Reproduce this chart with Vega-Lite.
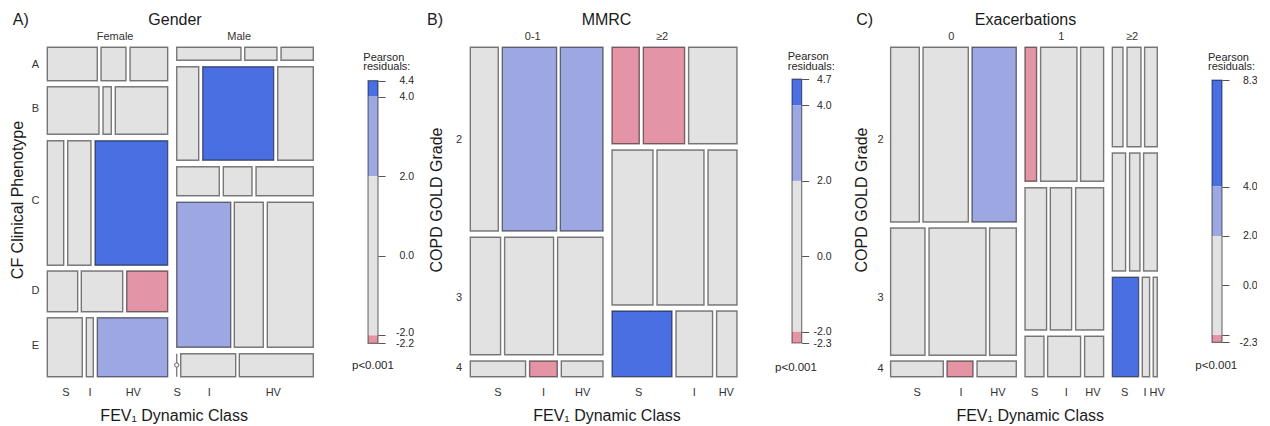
{
"$schema":"https://vega.github.io/schema/vega-lite/v6.json",
"background":"white",
"padding":0,
"spacing":0,
"bounds":"flush",
"config":{"view":{"stroke":null},"font":"Liberation Sans"},
"datasets":{
"tilesA":[
{"g":"Female","p":"A","f":"S","x":0,"x2":18.8,"y":0,"y2":10.14,"s":"n"},
{"g":"Female","p":"A","f":"I","x":20.19,"x2":29.59,"y":0,"y2":10.14,"s":"n"},
{"g":"Female","p":"A","f":"HV","x":31.09,"x2":45.26,"y":0,"y2":10.14,"s":"n"},
{"g":"Female","p":"B","f":"S","x":0,"x2":19.44,"y":11.96,"y2":26.41,"s":"n"},
{"g":"Female","p":"B","f":"I","x":20.94,"x2":24.06,"y":11.96,"y2":26.41,"s":"n"},
{"g":"Female","p":"B","f":"HV","x":25.56,"x2":45.26,"y":11.96,"y2":26.41,"s":"n"},
{"g":"Female","p":"C","f":"S","x":0,"x2":6.17,"y":28.35,"y2":66.18,"s":"n"},
{"g":"Female","p":"C","f":"I","x":7.67,"x2":16.43,"y":28.35,"y2":66.18,"s":"n"},
{"g":"Female","p":"C","f":"HV","x":17.93,"x2":45.26,"y":28.35,"y2":66.18,"s":"p4"},
{"g":"Female","p":"D","f":"S","x":0,"x2":11.43,"y":67.91,"y2":80.27,"s":"n"},
{"g":"Female","p":"D","f":"I","x":12.78,"x2":28.35,"y":67.91,"y2":80.27,"s":"n"},
{"g":"Female","p":"D","f":"HV","x":29.85,"x2":45.26,"y":67.91,"y2":80.27,"s":"m2"},
{"g":"Female","p":"E","f":"S","x":0,"x2":13.16,"y":82.09,"y2":100,"s":"n"},
{"g":"Female","p":"E","f":"I","x":14.66,"x2":17.29,"y":82.09,"y2":100,"s":"n"},
{"g":"Female","p":"E","f":"HV","x":18.8,"x2":45.26,"y":82.09,"y2":100,"s":"p2"},
{"g":"Male","p":"A","f":"S","x":48.65,"x2":72.82,"y":0,"y2":3.95,"s":"n"},
{"g":"Male","p":"A","f":"I","x":74.21,"x2":86.35,"y":0,"y2":3.95,"s":"n"},
{"g":"Male","p":"A","f":"HV","x":87.86,"x2":100,"y":0,"y2":3.95,"s":"n"},
{"g":"Male","p":"B","f":"S","x":48.65,"x2":56.92,"y":5.89,"y2":34.3,"s":"n"},
{"g":"Male","p":"B","f":"I","x":58.42,"x2":85.11,"y":5.89,"y2":34.3,"s":"p4"},
{"g":"Male","p":"B","f":"HV","x":86.62,"x2":100,"y":5.89,"y2":34.3,"s":"n"},
{"g":"Male","p":"C","f":"S","x":48.65,"x2":64.66,"y":36.25,"y2":45.05,"s":"n"},
{"g":"Male","p":"C","f":"I","x":66.17,"x2":76.96,"y":36.25,"y2":45.05,"s":"n"},
{"g":"Male","p":"C","f":"HV","x":78.46,"x2":100,"y":36.25,"y2":45.05,"s":"n"},
{"g":"Male","p":"D","f":"S","x":48.65,"x2":68.95,"y":47.06,"y2":91.07,"s":"p2"},
{"g":"Male","p":"D","f":"I","x":70.3,"x2":81.2,"y":47.06,"y2":91.07,"s":"n"},
{"g":"Male","p":"D","f":"HV","x":82.71,"x2":100,"y":47.06,"y2":91.07,"s":"n"},
{"g":"Male","p":"E","f":"I","x":50.15,"x2":70.83,"y":93.02,"y2":100,"s":"n"},
{"g":"Male","p":"E","f":"HV","x":72.18,"x2":100,"y":93.02,"y2":100,"s":"n"}
],
"zeroLineA":[{"g":"Male","p":"E","f":"S","x":48.65,"y":93.02,"y2":100}],
"zeroDotA":[{"g":"Male","p":"E","f":"S","x":48.65,"y":96.45}],
"tilesB":[
{"m":"0-1","gr":"2","f":"S","x":0,"x2":10.5,"y":0,"y2":55.77,"s":"n"},
{"m":"0-1","gr":"2","f":"I","x":12.0,"x2":32.36,"y":0,"y2":55.77,"s":"p2"},
{"m":"0-1","gr":"2","f":"HV","x":33.75,"x2":49.76,"y":0,"y2":55.77,"s":"p2"},
{"m":"0-1","gr":"3","f":"S","x":0,"x2":11.36,"y":57.68,"y2":93.32,"s":"n"},
{"m":"0-1","gr":"3","f":"I","x":12.86,"x2":31.23,"y":57.68,"y2":93.32,"s":"n"},
{"m":"0-1","gr":"3","f":"HV","x":32.73,"x2":49.76,"y":57.68,"y2":93.32,"s":"n"},
{"m":"0-1","gr":"4","f":"S","x":0,"x2":20.73,"y":95.23,"y2":100,"s":"n"},
{"m":"0-1","gr":"4","f":"I","x":22.23,"x2":32.62,"y":95.23,"y2":100,"s":"m2"},
{"m":"0-1","gr":"4","f":"HV","x":34.12,"x2":49.76,"y":95.23,"y2":100,"s":"n"},
{"m":"≥2","gr":"2","f":"S","x":53.13,"x2":63.37,"y":0,"y2":29.27,"s":"m2"},
{"m":"≥2","gr":"2","f":"I","x":64.87,"x2":80.35,"y":0,"y2":29.27,"s":"m2"},
{"m":"≥2","gr":"2","f":"HV","x":81.85,"x2":100,"y":0,"y2":29.27,"s":"n"},
{"m":"≥2","gr":"3","f":"S","x":53.13,"x2":68.5,"y":31.18,"y2":78.23,"s":"n"},
{"m":"≥2","gr":"3","f":"I","x":70.0,"x2":87.63,"y":31.18,"y2":78.23,"s":"n"},
{"m":"≥2","gr":"3","f":"HV","x":89.13,"x2":100,"y":31.18,"y2":78.23,"s":"n"},
{"m":"≥2","gr":"4","f":"S","x":53.13,"x2":75.63,"y":80.05,"y2":100,"s":"p4"},
{"m":"≥2","gr":"4","f":"I","x":77.13,"x2":90.85,"y":80.05,"y2":100,"s":"n"},
{"m":"≥2","gr":"4","f":"HV","x":92.35,"x2":100,"y":80.05,"y2":100,"s":"n"}
],
"tilesC":[
{"e":"0","gr":"2","f":"S","x":0,"x2":10.76,"y":0,"y2":53.04,"s":"n"},
{"e":"0","gr":"2","f":"I","x":12.15,"x2":29.14,"y":0,"y2":53.04,"s":"n"},
{"e":"0","gr":"2","f":"HV","x":30.52,"x2":47.13,"y":0,"y2":53.04,"s":"p2"},
{"e":"0","gr":"3","f":"S","x":0,"x2":12.9,"y":54.86,"y2":93.5,"s":"n"},
{"e":"0","gr":"3","f":"I","x":14.4,"x2":35.77,"y":54.86,"y2":93.5,"s":"n"},
{"e":"0","gr":"3","f":"HV","x":37.12,"x2":47.13,"y":54.86,"y2":93.5,"s":"n"},
{"e":"0","gr":"4","f":"S","x":0,"x2":19.76,"y":95.23,"y2":100,"s":"n"},
{"e":"0","gr":"4","f":"I","x":21.15,"x2":30.9,"y":95.23,"y2":100,"s":"m2"},
{"e":"0","gr":"4","f":"HV","x":32.4,"x2":47.13,"y":95.23,"y2":100,"s":"n"},
{"e":"1","gr":"2","f":"S","x":50.39,"x2":54.74,"y":0,"y2":40.68,"s":"m2"},
{"e":"1","gr":"2","f":"I","x":56.24,"x2":69.89,"y":0,"y2":40.68,"s":"n"},
{"e":"1","gr":"2","f":"HV","x":71.24,"x2":79.87,"y":0,"y2":40.68,"s":"n"},
{"e":"1","gr":"3","f":"S","x":50.39,"x2":58.49,"y":42.62,"y2":85.82,"s":"n"},
{"e":"1","gr":"3","f":"I","x":59.88,"x2":67.87,"y":42.62,"y2":85.82,"s":"n"},
{"e":"1","gr":"3","f":"HV","x":69.37,"x2":79.87,"y":42.62,"y2":85.82,"s":"n"},
{"e":"1","gr":"4","f":"S","x":50.39,"x2":57.52,"y":87.74,"y2":100,"s":"n"},
{"e":"1","gr":"4","f":"I","x":58.87,"x2":71.24,"y":87.74,"y2":100,"s":"n"},
{"e":"1","gr":"4","f":"HV","x":72.74,"x2":79.87,"y":87.74,"y2":100,"s":"n"},
{"e":"≥2","gr":"2","f":"S","x":83.13,"x2":87.14,"y":0,"y2":30.18,"s":"n"},
{"e":"≥2","gr":"2","f":"I","x":88.64,"x2":93.89,"y":0,"y2":30.18,"s":"n"},
{"e":"≥2","gr":"2","f":"HV","x":95.24,"x2":100,"y":0,"y2":30.18,"s":"n"},
{"e":"≥2","gr":"3","f":"S","x":83.13,"x2":88.11,"y":32.09,"y2":67.91,"s":"n"},
{"e":"≥2","gr":"3","f":"I","x":89.61,"x2":93.51,"y":32.09,"y2":67.91,"s":"n"},
{"e":"≥2","gr":"3","f":"HV","x":94.86,"x2":100,"y":32.09,"y2":67.91,"s":"n"},
{"e":"≥2","gr":"4","f":"S","x":83.13,"x2":92.99,"y":69.82,"y2":100,"s":"p4"},
{"e":"≥2","gr":"4","f":"I","x":94.37,"x2":97.11,"y":69.82,"y2":100,"s":"n"},
{"e":"≥2","gr":"4","f":"HV","x":98.46,"x2":100,"y":69.82,"y2":100,"s":"n"}
],
"txtA":[
{"role":"tag","t":"A)","x":-13.0,"y":-6.77},
{"role":"title","t":"Gender","x":48.0,"y":-6.77},
{"role":"lab","t":"Female","x":25.49,"y":-3.07},
{"role":"lab","t":"Male","x":72.14,"y":-3.07},
{"role":"lab","t":"A","x":-4.44,"y":5.37},
{"role":"lab","t":"B","x":-4.44,"y":18.73},
{"role":"lab","t":"C","x":-4.44,"y":46.57},
{"role":"lab","t":"D","x":-4.44,"y":74.07},
{"role":"lab","t":"E","x":-4.44,"y":90.59},
{"role":"lab","t":"S","x":7.03,"y":105},
{"role":"lab","t":"I","x":16.05,"y":105},
{"role":"lab","t":"HV","x":32.33,"y":105},
{"role":"lab","t":"S","x":48.87,"y":105},
{"role":"lab","t":"I","x":60.9,"y":105},
{"role":"lab","t":"HV","x":84.96,"y":105},
{"role":"ytitle","t":"CF Clinical Phenotype","x":-10.9,"y":46.36},
{"role":"xtitle","t":"FEV₁ Dynamic Class","x":47.7,"y":113.54}
],
"txtB":[
{"role":"tag","t":"B)","x":-16.24,"y":-6.77},
{"role":"title","t":"MMRC","x":51.07,"y":-6.77},
{"role":"lab","t":"0-1","x":23.43,"y":-3.07},
{"role":"lab","t":"≥2","x":71.88,"y":-3.07},
{"role":"lab","t":"2","x":-4.2,"y":28.14},
{"role":"lab","t":"3","x":-4.2,"y":76.11},
{"role":"lab","t":"4","x":-4.2,"y":97.36},
{"role":"lab","t":"S","x":10.39,"y":105},
{"role":"lab","t":"I","x":27.48,"y":105},
{"role":"lab","t":"HV","x":42.11,"y":105},
{"role":"lab","t":"S","x":63.11,"y":105},
{"role":"lab","t":"I","x":83.99,"y":105},
{"role":"lab","t":"HV","x":95.99,"y":105},
{"role":"ytitle","t":"COPD GOLD Grade","x":-12.49,"y":46.36},
{"role":"xtitle","t":"FEV₁ Dynamic Class","x":51.26,"y":113.54}
],
"txtC":[
{"role":"tag","t":"C)","x":-12.86,"y":-6.77},
{"role":"title","t":"Exacerbations","x":50.58,"y":-6.77},
{"role":"lab","t":"0","x":22.76,"y":-3.07},
{"role":"lab","t":"1","x":64.0,"y":-3.07},
{"role":"lab","t":"≥2","x":90.55,"y":-3.07},
{"role":"lab","t":"2","x":-3.75,"y":28.14},
{"role":"lab","t":"3","x":-3.75,"y":76.11},
{"role":"lab","t":"4","x":-3.75,"y":97.57},
{"role":"lab","t":"S","x":9.94,"y":105},
{"role":"lab","t":"I","x":26.44,"y":105},
{"role":"lab","t":"HV","x":40.27,"y":105},
{"role":"lab","t":"S","x":53.99,"y":105},
{"role":"lab","t":"I","x":65.88,"y":105},
{"role":"lab","t":"HV","x":75.89,"y":105},
{"role":"lab","t":"S","x":87.74,"y":105},
{"role":"lab","t":"I","x":95.4,"y":105},
{"role":"lab","t":"HV","x":99.92,"y":105},
{"role":"ytitle","t":"COPD GOLD Grade","x":-10.69,"y":46.36},
{"role":"xtitle","t":"FEV₁ Dynamic Class","x":52.36,"y":113.54}
],
"legA":[{"y":4,"y2":4.4,"s":"p4"},{"y":2,"y2":4,"s":"p2"},{"y":-2,"y2":2,"s":"n"},{"y":-2.2,"y2":-2,"s":"m2"}],
"legAbox":[{"y":-2.2,"y2":4.4}],
"legAtxt":[{"role":"title","t":"Pearson","x":-0.47,"y":4.983},{"role":"title","t":"residuals:","x":-0.47,"y":4.744},{"role":"p","t":"p<0.001","x":-1.6,"y":-2.778}],
"legB":[{"y":4,"y2":4.7,"s":"p4"},{"y":2,"y2":4,"s":"p2"},{"y":-2,"y2":2,"s":"n"},{"y":-2.3,"y2":-2,"s":"m2"}],
"legBbox":[{"y":-2.3,"y2":4.7}],
"legBtxt":[{"role":"title","t":"Pearson","x":-0.44,"y":5.273},{"role":"title","t":"residuals:","x":-0.44,"y":5.021},{"role":"p","t":"p<0.001","x":-1.75,"y":-2.963}],
"legC":[{"y":4,"y2":8.3,"s":"p4"},{"y":2,"y2":4,"s":"p2"},{"y":-2,"y2":2,"s":"n"},{"y":-2.3,"y2":-2,"s":"m2"}],
"legCbox":[{"y":-2.3,"y2":8.3}],
"legCtxt":[{"role":"title","t":"Pearson","x":-0.4,"y":9.212},{"role":"title","t":"residuals:","x":-0.4,"y":8.828},{"role":"p","t":"p<0.001","x":-1.67,"y":-3.265}]
},
"hconcat":[
{
"width":367.7,"height":426,
"encoding":{
"x":{"field":"x","type":"quantitative","scale":{"domain":[0,100],"range":[47.3,313.3],"nice":false,"zero":false},"axis":null},
"y":{"field":"y","type":"quantitative","scale":{"domain":[0,100],"range":[47.3,376.7],"nice":false,"zero":false},"axis":null}
},
"layer":[
{"data":{"name":"tilesA"},"mark":{"type":"rect","stroke":"black","strokeOpacity":0.5,"strokeWidth":1.4},
"encoding":{"x2":{"field":"x2"},"y2":{"field":"y2"},"color":{"field":"s","type":"nominal","scale":{"domain":["p4","p2","n","m2"],"range":["#4A6FE3","#9DA8E2","#E2E2E2","#E495A5"]},"legend":null}}},
{"data":{"name":"zeroLineA"},"mark":{"type":"rule","stroke":"black","strokeOpacity":0.5,"strokeWidth":1.4},"encoding":{"y2":{"field":"y2"}}},
{"data":{"name":"zeroDotA"},"mark":{"type":"point","shape":"circle","size":18,"filled":true,"fill":"white","stroke":"#666","strokeWidth":1,"opacity":1},"encoding":{}},
{"data":{"name":"txtA"},"transform":[{"filter":"datum.role=='tag'"}],"mark":{"type":"text","fontSize":16,"align":"left","baseline":"alphabetic","color":"#1a1a1a"},"encoding":{"text":{"field":"t"}}},
{"data":{"name":"txtA"},"transform":[{"filter":"datum.role=='title'"}],"mark":{"type":"text","fontSize":16,"align":"center","baseline":"alphabetic","color":"#1a1a1a"},"encoding":{"text":{"field":"t"}}},
{"data":{"name":"txtA"},"transform":[{"filter":"datum.role=='lab'"}],"mark":{"type":"text","fontSize":11,"align":"center","baseline":"middle","color":"#333"},"encoding":{"text":{"field":"t"}}},
{"data":{"name":"txtA"},"transform":[{"filter":"datum.role=='ytitle'"}],"mark":{"type":"text","fontSize":16,"align":"center","baseline":"middle","angle":270,"color":"#1a1a1a"},"encoding":{"text":{"field":"t"}}},
{"data":{"name":"txtA"},"transform":[{"filter":"datum.role=='xtitle'"}],"mark":{"type":"text","fontSize":16,"align":"center","baseline":"alphabetic","color":"#1a1a1a"},"encoding":{"text":{"field":"t"}}}
]
},
{
"width":10,"height":426,
"encoding":{
"x":{"field":"x","type":"quantitative","scale":{"domain":[0,1],"range":[0,10],"nice":false,"zero":false},"axis":null},
"y":{"field":"y","type":"quantitative","scale":{"domain":[-2.2,4.4],"range":[343.3,80.7],"nice":false,"zero":false},
"axis":{"orient":"right","values":[4.4,4,2,0,-2,-2.2],"domain":false,"grid":false,"ticks":true,"tickSize":7,"tickColor":"#555","tickWidth":1,"labelFontSize":10.5,"labelColor":"#262626","labelAlign":"right",
"labelBaseline":{"condition":{"test":"datum.value == -2","value":"alphabetic"},"value":"middle"},
"labelPadding":28.6,"labelOverlap":false,"labelFlush":false,"title":null,
"labelExpr":"datum.value < 0 ? '-' + format(-datum.value, '.1f') : format(datum.value, '.1f')"}}
},
"layer":[
{"data":{"name":"legA"},"mark":{"type":"rect"},"encoding":{"x":{"value":0},"x2":{"value":"width"},"y2":{"field":"y2"},
"color":{"field":"s","type":"nominal","scale":{"domain":["p4","p2","n","m2"],"range":["#4A6FE3","#9DA8E2","#E2E2E2","#E495A5"]},"legend":null}}},
{"data":{"name":"legAbox"},"mark":{"type":"rect","fill":null,"fillOpacity":0,"stroke":"black","strokeOpacity":0.5,"strokeWidth":1.2},"encoding":{"x":{"value":0},"x2":{"value":"width"},"y2":{"field":"y2"}}},
{"data":{"name":"legAtxt"},"transform":[{"filter":"datum.role=='title'"}],"mark":{"type":"text","fontSize":11,"align":"left","baseline":"middle","color":"#262626"},"encoding":{"text":{"field":"t"}}},
{"data":{"name":"legAtxt"},"transform":[{"filter":"datum.role=='p'"}],"mark":{"type":"text","fontSize":11.5,"align":"left","baseline":"middle","color":"#262626"},"encoding":{"text":{"field":"t"}}}
]
},
{
"width":413.3,"height":426,
"encoding":{
"x":{"field":"x","type":"quantitative","scale":{"domain":[0,100],"range":[92.3,359.0],"nice":false,"zero":false},"axis":null},
"y":{"field":"y","type":"quantitative","scale":{"domain":[0,100],"range":[47.3,376.7],"nice":false,"zero":false},"axis":null}
},
"layer":[
{"data":{"name":"tilesB"},"mark":{"type":"rect","stroke":"black","strokeOpacity":0.5,"strokeWidth":1.4},
"encoding":{"x2":{"field":"x2"},"y2":{"field":"y2"},"color":{"field":"s","type":"nominal","scale":{"domain":["p4","p2","n","m2"],"range":["#4A6FE3","#9DA8E2","#E2E2E2","#E495A5"]},"legend":null}}},
{"data":{"name":"txtB"},"transform":[{"filter":"datum.role=='tag'"}],"mark":{"type":"text","fontSize":16,"align":"left","baseline":"alphabetic","color":"#1a1a1a"},"encoding":{"text":{"field":"t"}}},
{"data":{"name":"txtB"},"transform":[{"filter":"datum.role=='title'"}],"mark":{"type":"text","fontSize":16,"align":"center","baseline":"alphabetic","color":"#1a1a1a"},"encoding":{"text":{"field":"t"}}},
{"data":{"name":"txtB"},"transform":[{"filter":"datum.role=='lab'"}],"mark":{"type":"text","fontSize":11,"align":"center","baseline":"middle","color":"#333"},"encoding":{"text":{"field":"t"}}},
{"data":{"name":"txtB"},"transform":[{"filter":"datum.role=='ytitle'"}],"mark":{"type":"text","fontSize":16,"align":"center","baseline":"middle","angle":270,"color":"#1a1a1a"},"encoding":{"text":{"field":"t"}}},
{"data":{"name":"txtB"},"transform":[{"filter":"datum.role=='xtitle'"}],"mark":{"type":"text","fontSize":16,"align":"center","baseline":"alphabetic","color":"#1a1a1a"},"encoding":{"text":{"field":"t"}}}
]
},
{
"width":9.7,"height":426,
"encoding":{
"x":{"field":"x","type":"quantitative","scale":{"domain":[0,1],"range":[0,9.7],"nice":false,"zero":false},"axis":null},
"y":{"field":"y","type":"quantitative","scale":{"domain":[-2.3,4.7],"range":[343.0,79.1],"nice":false,"zero":false},
"axis":{"orient":"right","values":[4.7,4,2,0,-2,-2.3],"domain":false,"grid":false,"ticks":true,"tickSize":7,"tickColor":"#555","tickWidth":1,"labelFontSize":10.5,"labelColor":"#262626","labelAlign":"right","labelBaseline":"middle","labelPadding":22.3,"labelOverlap":false,"labelFlush":false,"title":null,
"labelExpr":"datum.value < 0 ? '-' + format(-datum.value, '.1f') : format(datum.value, '.1f')"}}
},
"layer":[
{"data":{"name":"legB"},"mark":{"type":"rect"},"encoding":{"x":{"value":0},"x2":{"value":"width"},"y2":{"field":"y2"},
"color":{"field":"s","type":"nominal","scale":{"domain":["p4","p2","n","m2"],"range":["#4A6FE3","#9DA8E2","#E2E2E2","#E495A5"]},"legend":null}}},
{"data":{"name":"legBbox"},"mark":{"type":"rect","fill":null,"fillOpacity":0,"stroke":"black","strokeOpacity":0.5,"strokeWidth":1.2},"encoding":{"x":{"value":0},"x2":{"value":"width"},"y2":{"field":"y2"}}},
{"data":{"name":"legBtxt"},"transform":[{"filter":"datum.role=='title'"}],"mark":{"type":"text","fontSize":11,"align":"left","baseline":"middle","color":"#262626"},"encoding":{"text":{"field":"t"}}},
{"data":{"name":"legBtxt"},"transform":[{"filter":"datum.role=='p'"}],"mark":{"type":"text","fontSize":11.5,"align":"left","baseline":"middle","color":"#262626"},"encoding":{"text":{"field":"t"}}}
]
},
{
"width":409.3,"height":426,
"encoding":{
"x":{"field":"x","type":"quantitative","scale":{"domain":[0,100],"range":[88.6,355.3],"nice":false,"zero":false},"axis":null},
"y":{"field":"y","type":"quantitative","scale":{"domain":[0,100],"range":[47.3,376.7],"nice":false,"zero":false},"axis":null}
},
"layer":[
{"data":{"name":"tilesC"},"mark":{"type":"rect","stroke":"black","strokeOpacity":0.5,"strokeWidth":1.4},
"encoding":{"x2":{"field":"x2"},"y2":{"field":"y2"},"color":{"field":"s","type":"nominal","scale":{"domain":["p4","p2","n","m2"],"range":["#4A6FE3","#9DA8E2","#E2E2E2","#E495A5"]},"legend":null}}},
{"data":{"name":"txtC"},"transform":[{"filter":"datum.role=='tag'"}],"mark":{"type":"text","fontSize":16,"align":"left","baseline":"alphabetic","color":"#1a1a1a"},"encoding":{"text":{"field":"t"}}},
{"data":{"name":"txtC"},"transform":[{"filter":"datum.role=='title'"}],"mark":{"type":"text","fontSize":16,"align":"center","baseline":"alphabetic","color":"#1a1a1a"},"encoding":{"text":{"field":"t"}}},
{"data":{"name":"txtC"},"transform":[{"filter":"datum.role=='lab'"}],"mark":{"type":"text","fontSize":11,"align":"center","baseline":"middle","color":"#333"},"encoding":{"text":{"field":"t"}}},
{"data":{"name":"txtC"},"transform":[{"filter":"datum.role=='ytitle'"}],"mark":{"type":"text","fontSize":16,"align":"center","baseline":"middle","angle":270,"color":"#1a1a1a"},"encoding":{"text":{"field":"t"}}},
{"data":{"name":"txtC"},"transform":[{"filter":"datum.role=='xtitle'"}],"mark":{"type":"text","fontSize":16,"align":"center","baseline":"alphabetic","color":"#1a1a1a"},"encoding":{"text":{"field":"t"}}}
]
},
{
"width":10,"height":426,
"encoding":{
"x":{"field":"x","type":"quantitative","scale":{"domain":[0,1],"range":[0,10],"nice":false,"zero":false},"axis":null},
"y":{"field":"y","type":"quantitative","scale":{"domain":[-2.3,8.3],"range":[342.4,80.1],"nice":false,"zero":false},
"axis":{"orient":"right","values":[8.3,4,2,0,-2,-2.3],"domain":false,"grid":false,"ticks":true,"tickSize":7,"tickColor":"#555","tickWidth":1,"labelFontSize":10.5,"labelColor":"#262626","labelAlign":"right","labelBaseline":"middle","labelPadding":28,"labelOverlap":false,"labelFlush":false,"title":null,
"labelExpr":"datum.value == -2 ? '' : (datum.value < 0 ? '-' + format(-datum.value, '.1f') : format(datum.value, '.1f'))"}}
},
"layer":[
{"data":{"name":"legC"},"mark":{"type":"rect"},"encoding":{"x":{"value":0},"x2":{"value":"width"},"y2":{"field":"y2"},
"color":{"field":"s","type":"nominal","scale":{"domain":["p4","p2","n","m2"],"range":["#4A6FE3","#9DA8E2","#E2E2E2","#E495A5"]},"legend":null}}},
{"data":{"name":"legCbox"},"mark":{"type":"rect","fill":null,"fillOpacity":0,"stroke":"black","strokeOpacity":0.5,"strokeWidth":1.2},"encoding":{"x":{"value":0},"x2":{"value":"width"},"y2":{"field":"y2"}}},
{"data":{"name":"legCtxt"},"transform":[{"filter":"datum.role=='title'"}],"mark":{"type":"text","fontSize":11,"align":"left","baseline":"middle","color":"#262626"},"encoding":{"text":{"field":"t"}}},
{"data":{"name":"legCtxt"},"transform":[{"filter":"datum.role=='p'"}],"mark":{"type":"text","fontSize":11.5,"align":"left","baseline":"middle","color":"#262626"},"encoding":{"text":{"field":"t"}}}
]
}
]
}
